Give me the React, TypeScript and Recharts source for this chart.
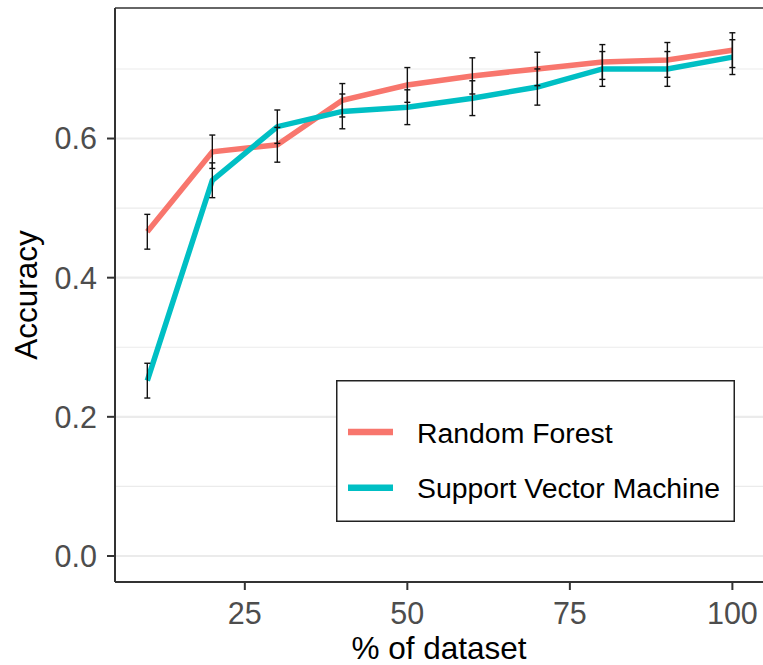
import React from 'react';
import { LineChart, Line, XAxis, YAxis, CartesianGrid, ErrorBar, ReferenceLine, Legend } from 'recharts';

const percents = [10, 20, 30, 40, 50, 60, 70, 80, 90, 100];
const rfAcc = [0.466, 0.581, 0.591, 0.655, 0.677, 0.690, 0.700, 0.710, 0.713, 0.727];
const rfErr = [0.025, 0.024, 0.025, 0.024, 0.025, 0.026, 0.024, 0.025, 0.025, 0.025];
const svmAcc = [0.252, 0.540, 0.617, 0.639, 0.645, 0.658, 0.674, 0.700, 0.700, 0.717];
const svmErr = [0.025, 0.025, 0.024, 0.025, 0.025, 0.025, 0.026, 0.025, 0.025, 0.025];
const xTicks = [25, 50, 75, 100];
const yTicks = [0, 0.2, 0.4, 0.6];
const yMinor = [0.1, 0.3, 0.5, 0.7];
const seriesNames = ['Random Forest', 'Support Vector Machine'];
const seriesColors = ['#F8766D', '#00BFC4'];

const data = percents.map((p, i) => ({
  x: p,
  rf: rfAcc[i],
  rfErr: rfErr[i],
  svm: svmAcc[i],
  svmErr: svmErr[i],
}));

const FONT = '"Liberation Sans", Arial, Helvetica, sans-serif';
const X_DOMAIN: [number, number] = [5.03, 104.71];
const Y_DOMAIN: [number, number] = [-0.0374, 0.7876];

const LegendBox = () => (
  <svg width={400} height={143} style={{ display: 'block' }}>
    <rect x={0.75} y={0.75} width={397.5} height={140.5} fill="#fff" stroke="#222" strokeWidth={1.5} />
    {seriesNames.map((n, i) => (
      <g key={n}>
        <line x1={12} x2={57} y1={52 + i * 55.7} y2={52 + i * 55.7} stroke={seriesColors[i]} strokeWidth={6.5} />
        <text x={81} y={62.7 + i * 55.7} fontSize={28.4} fontFamily={FONT} fill="#000">{n}</text>
      </g>
    ))}
  </svg>
);

export default function App() {
  return (
    <div style={{ position: 'absolute', left: 0, top: 0, width: 763, height: 665, background: '#fff' }}>
      <LineChart width={763} height={665} data={data} margin={{ top: 8, right: 0, left: 0, bottom: 0 }}>
        <CartesianGrid vertical={false} horizontalValues={yMinor} stroke="#EBEBEB" strokeWidth={1.1} strokeDasharray="" />
        <CartesianGrid vertical={false} horizontalValues={yTicks} stroke="#EBEBEB" strokeWidth={2.2} strokeDasharray="" />
        <XAxis
          type="number"
          dataKey="x"
          domain={X_DOMAIN}
          allowDataOverflow
          ticks={xTicks}
          height={83}
          tickSize={8}
          tickMargin={12}
          axisLine={{ stroke: '#333333', strokeWidth: 2 }}
          tickLine={{ stroke: '#333333', strokeWidth: 2 }}
          tick={{ fill: '#4D4D4D', fontSize: 30.5, fontFamily: FONT }}
          label={{ value: '% of dataset', position: 'insideBottom', offset: 6, fill: '#000', fontSize: 31.5, fontFamily: FONT }}
        />
        <YAxis
          type="number"
          domain={Y_DOMAIN}
          allowDataOverflow
          ticks={yTicks}
          width={115}
          tickSize={8}
          tickMargin={10}
          tickFormatter={(v: number) => v.toFixed(1)}
          axisLine={{ stroke: '#333333', strokeWidth: 2 }}
          tickLine={{ stroke: '#333333', strokeWidth: 2 }}
          tick={{ fill: '#4D4D4D', fontSize: 30.5, fontFamily: FONT }}
          label={{ value: 'Accuracy', angle: -90, position: 'insideLeft', offset: 26, fill: '#000', fontSize: 31.5, fontFamily: FONT, style: { textAnchor: 'middle' } }}
        />
        <ReferenceLine y={Y_DOMAIN[1]} stroke="#333333" strokeWidth={1.5} />
        <Line type="linear" dataKey="rf" name={seriesNames[0]} stroke={seriesColors[0]} strokeWidth={5.5} dot={false} activeDot={false} isAnimationActive={false} />
        <Line type="linear" dataKey="svm" name={seriesNames[1]} stroke={seriesColors[1]} strokeWidth={5.5} dot={false} activeDot={false} isAnimationActive={false} />
        <Line type="linear" dataKey="rf" stroke="none" dot={false} activeDot={false} legendType="none" isAnimationActive={false}>
          <ErrorBar dataKey="rfErr" width={3} stroke="#111" strokeWidth={1.4} direction="y" isAnimationActive={false} />
        </Line>
        <Line type="linear" dataKey="svm" stroke="none" dot={false} activeDot={false} legendType="none" isAnimationActive={false}>
          <ErrorBar dataKey="svmErr" width={3} stroke="#111" strokeWidth={1.4} direction="y" isAnimationActive={false} />
        </Line>
        <Legend
          layout="vertical"
          align="center"
          verticalAlign="middle"
          content={() => <LegendBox />}
          wrapperStyle={{ left: 336, top: 380, width: 400, height: 143, margin: 0, padding: 0 }}
        />
      </LineChart>
    </div>
  );
}
